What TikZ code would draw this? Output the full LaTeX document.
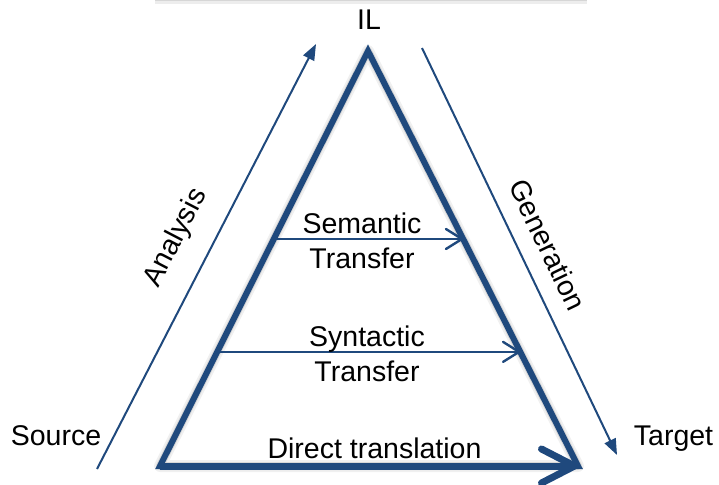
\documentclass[tikz,border=0pt]{standalone}
\usepackage{fontspec}
\setmainfont{Liberation Sans}
\usetikzlibrary{arrows.meta,calc}
\definecolor{tblue}{RGB}{31,73,125}
\begin{document}
\begin{tikzpicture}[x=1pt,y=-1pt,
  lbl/.style={font=\fontsize{28.5}{35}\selectfont, inner sep=0pt, text=black, align=center},
  tri/.style={draw=tblue, line width=6pt, line join=miter},
  shade1/.style={draw=black, line width=12pt, opacity=0.06, line join=round},
  shade2/.style={draw=black, line width=8pt, opacity=0.10, line join=round},
  flow/.style={draw=tblue, line width=2pt, -{Triangle[length=16pt,width=12pt]}},
  xfer/.style={draw=tblue, line width=2.4pt, -{Straight Barb[length=16pt,width=20pt,round]}},
  direct/.style={draw=tblue, line width=7pt, -{Straight Barb[length=33pt,width=34pt,round]}}]
\useasboundingbox (0,0) rectangle (719,484);
\fill[white] (0,0) rectangle (719,484);
% faint edge of a box at the top
\fill[black!16] (155,0) rectangle (587,1.5);
\fill[black!7] (155,1.5) rectangle (587,4);
% triangle corners
\coordinate (A) at (368,51);
\coordinate (B) at (160,466);
\coordinate (C) at (578,466);
% shadow
\begin{scope}[shift={(3,4)}]
  \draw[shade1] (A) -- (B) -- (C) -- cycle;
  \draw[shade2] (A) -- (B) -- (C) -- cycle;
\end{scope}
% triangle
\draw[tri] (A) -- (B) -- (C) -- cycle;
\draw[direct] (B) -- (C);
% transfer arrows
\draw[xfer] ($(A)!0.453!(B)$) -- ($(A)!0.453!(C)$);
\draw[xfer] ($(A)!0.725!(B)$) -- ($(A)!0.725!(C)$);
% analysis / generation arrows
\coordinate (s1) at (97,469);
\coordinate (s2) at (316,44);
\coordinate (g1) at (422,48);
\coordinate (g2) at (617,455);
\draw[flow] (s1) -- (s2);
\draw[flow] (g1) -- (g2);
% labels
\node[lbl, anchor=base] (IL) at (369,30) {IL};
\node[lbl, anchor=base] (src) at (56,445) {Source};
\node[lbl, anchor=base] (tgt) at (673.5,445) {Target};
\node[lbl] (sem) at (362,240.5) {Semantic\\Transfer};
\node[lbl] (syn) at (367,353.5) {Syntactic\\Transfer};
\node[lbl, anchor=base] (dir) at (374.5,458) {Direct translation};
\node[lbl, rotate=62.5] (ana) at (176,238) {Analysis};
\node[lbl, rotate=-64.3] (gen) at (548,245) {Generation};
\end{tikzpicture}
\end{document}
